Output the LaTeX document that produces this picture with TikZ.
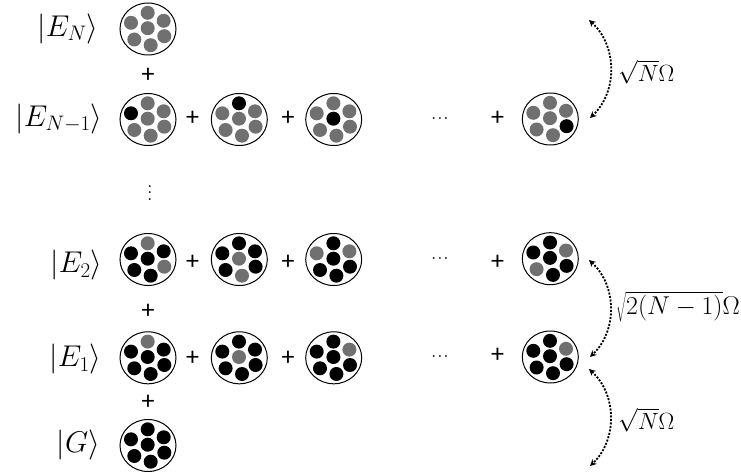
\documentclass[tikz,border=0pt]{standalone}
\usepackage{fix-cm}
\usepackage{fontspec}
\setsansfont{Carlito}
\usetikzlibrary{shapes.geometric,calc,arrows.meta}
\definecolor{dotgray}{RGB}{112,112,112}
\tikzset{
    cloudnode/.style={draw, ellipse, line width=1pt, inner sep=0pt, minimum width=56pt, minimum height=52pt},
    gd/.style={fill=dotgray},
    kd/.style={fill=black},
    plusnode/.style={font=\fontsize{26}{26}\selectfont\sffamily, inner sep=0pt},
    statenode/.style={font=\fontsize{30}{34}\selectfont, inner sep=0pt},
    ratenode/.style={font=\fontsize{23.5}{28}\selectfont, inner sep=0pt, anchor=west},
    dotsnode/.style={font=\fontsize{12}{12}\selectfont\boldmath, inner sep=0pt},
    coupling/.style={{Stealth[length=6.5pt,width=6.5pt]}-{Stealth[length=6.5pt,width=6.5pt]}, line width=1.8pt, dash pattern=on 2pt off 1.5pt, bend left=47}
}
% name, position, then the seven dots: top, up left, up right, centre, low left, low right, bottom
\newcommand{\cloud}[9]{
    \node[cloudnode] (#1) at (#2) {};
    \foreach \p/\dx/\dy/\c in {t/-0.3/-16.2/#3, ul/-17/-6.2/#4, ur/15.7/-8.2/#5, c/-0.3/-0.8/#6, ll/-13.7/10.5/#7, lr/16.3/7.2/#8, b/2.7/16.2/#9}
        \node[circle, minimum size=14pt, inner sep=0pt, \c] (#1\p) at ($(#1)+(\dx,\dy)$) {};
}
\begin{document}
\begin{tikzpicture}[x=1pt, y=-1pt]
\useasboundingbox (0,0) rectangle (741,476);

% states
\node[statenode] (labN) at (68,29) {$|E_N\rangle$};
\node[statenode] (labM) at (59,119) {$|E_{N-1}\rangle$};
\node[statenode] (lab2) at (76.5,265) {$|E_2\rangle$};
\node[statenode] (lab1) at (75.5,359) {$|E_1\rangle$};
\node[statenode] (labG) at (78.5,445) {$|G\rangle$};

% clouds
\cloud{N}{148,29}{gd}{gd}{gd}{gd}{gd}{gd}{gd}
\cloud{Ma}{148,119.5}{gd}{kd}{gd}{gd}{gd}{gd}{gd}
\cloud{Mb}{239.3,119.5}{kd}{gd}{gd}{gd}{gd}{gd}{gd}
\cloud{Mc}{333.7,119.5}{gd}{gd}{gd}{kd}{gd}{gd}{gd}
\cloud{Md}{550.3,119}{gd}{gd}{gd}{gd}{gd}{kd}{gd}
\cloud{Ba}{148,259.5}{gd}{kd}{kd}{kd}{kd}{gd}{kd}
\cloud{Bb}{239.3,259.5}{kd}{kd}{kd}{gd}{kd}{kd}{gd}
\cloud{Bc}{333.7,259.5}{kd}{gd}{gd}{kd}{kd}{kd}{kd}
\cloud{Bd}{550.3,258.7}{kd}{kd}{gd}{kd}{gd}{kd}{kd}
\cloud{Aa}{148,357.8}{gd}{kd}{kd}{kd}{kd}{kd}{kd}
\cloud{Ab}{239.3,357.8}{kd}{kd}{kd}{gd}{kd}{kd}{kd}
\cloud{Ac}{333.7,357.8}{kd}{kd}{gd}{kd}{kd}{kd}{kd}
\cloud{Ad}{550.3,357}{kd}{kd}{gd}{kd}{kd}{kd}{kd}
\cloud{G}{148,445.5}{kd}{kd}{kd}{kd}{kd}{kd}{kd}

% plus signs
\node[plusnode] (p1) at (148,75) {+};
\node[plusnode] (p2) at (192.7,118.7) {+};
\node[plusnode] (p3) at (288,118.7) {+};
\node[plusnode] (p4) at (497.7,118.7) {+};
\node[plusnode] (p5) at (192.7,262.7) {+};
\node[plusnode] (p6) at (288,262.7) {+};
\node[plusnode] (p7) at (497.7,262.7) {+};
\node[plusnode] (p8) at (148,311.7) {+};
\node[plusnode] (p9) at (192.7,358) {+};
\node[plusnode] (p10) at (288,358) {+};
\node[plusnode] (p11) at (497.7,355) {+};
\node[plusnode] (p12) at (148,402.7) {+};

% dots
\node[dotsnode] (d1) at (440,119) {$\cdots$};
\node[dotsnode] (d2) at (440,259) {$\cdots$};
\node[dotsnode] (d3) at (440,357) {$\cdots$};
\node[dotsnode, rotate=90] (d4) at (150,193) {$\cdots$};

% couplings
\coordinate (c1) at (589,20);
\coordinate (c2) at (590,118);
\coordinate (c3) at (589,260);
\coordinate (c4) at (590,357);
\coordinate (c5) at (589,369);
\coordinate (c6) at (590,466);
\draw[coupling] (c1) to (c2);
\draw[coupling] (c3) to (c4);
\draw[coupling] (c5) to (c6);
\node[ratenode] (r1) at (618,72) {$\sqrt{N}\Omega$};
\node[ratenode, font=\fontsize{25.8}{28}\selectfont] (r2) at (616,307) {$\sqrt{2(N-1)}\Omega$};
\node[ratenode] (r3) at (618,420) {$\sqrt{N}\Omega$};
\end{tikzpicture}
\end{document}
